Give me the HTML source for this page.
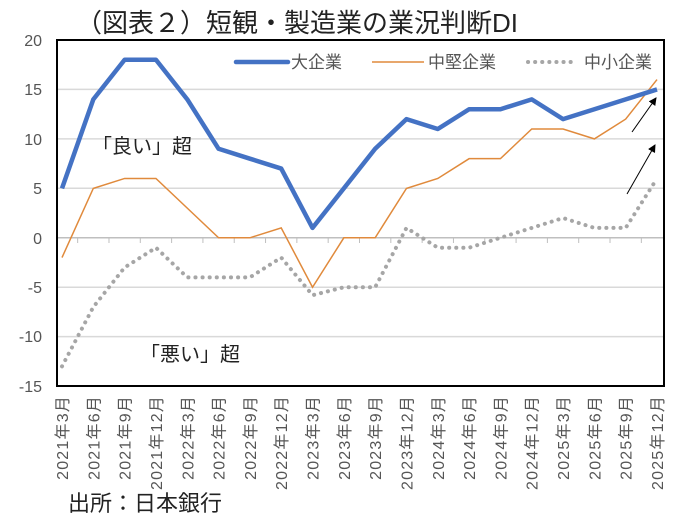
<!DOCTYPE html><html><head><meta charset="utf-8"><style>body{margin:0;background:#fff}svg{display:block}text{font-family:"Liberation Sans","Noto Sans CJK JP",sans-serif}</style></head><body>
<svg width="680" height="521" viewBox="0 0 680 521" xmlns="http://www.w3.org/2000/svg">
<defs><marker id="ah" markerWidth="8" markerHeight="8" refX="7" refY="4" orient="auto" markerUnits="userSpaceOnUse"><path d="M0,0 L8,4 L0,8 z" fill="#000"/></marker></defs>
<text x="76" y="32" font-size="26" fill="#222">（図表２）短観・製造業の業況判断DI</text>
<g stroke="#d9d9d9" stroke-width="1.5">
<line x1="58" x2="664" y1="89.4" y2="89.4"/><line x1="58" x2="664" y1="138.9" y2="138.9"/><line x1="58" x2="664" y1="188.3" y2="188.3"/><line x1="58" x2="664" y1="287.2" y2="287.2"/><line x1="58" x2="664" y1="336.6" y2="336.6"/></g>
<line x1="58" x2="664" y1="237.8" y2="237.8" stroke="#bfbfbf" stroke-width="1.5"/>
<g id="ticks" stroke="#bfbfbf" stroke-width="1"></g>
<rect x="57" y="40" width="607" height="346" fill="none" stroke="#000" stroke-width="2"/>
<g font-size="16" fill="#555" text-anchor="end">
<text x="42" y="46">20</text><text x="42" y="95">15</text><text x="42" y="145">10</text><text x="42" y="194">5</text><text x="42" y="244">0</text><text x="42" y="293">-5</text><text x="42" y="342">-10</text><text x="42" y="392">-15</text></g>
<g id="xl" font-size="16" fill="#555" letter-spacing="1.2"></g>
<polyline id="s" fill="none" stroke="#a6a6a6" stroke-width="4" stroke-dasharray="0.1 7" stroke-linecap="round"/>
<polyline id="m" fill="none" stroke="#e08a3c" stroke-width="1.5"/>
<polyline id="l" fill="none" stroke="#4472c4" stroke-width="4.5" stroke-linejoin="round"/>
<line x1="236" x2="288" y1="62" y2="62" stroke="#4472c4" stroke-width="4.5" stroke-linecap="round"/>
<text x="291" y="68" font-size="17" fill="#555">大企業</text>
<line x1="372" x2="424" y1="62" y2="62" stroke="#e08a3c" stroke-width="1.5"/>
<text x="428" y="68" font-size="17" fill="#555">中堅企業</text>
<line x1="528" x2="572" y1="62" y2="62" stroke="#a6a6a6" stroke-width="4" stroke-dasharray="0.1 7" stroke-linecap="round"/>
<text x="584" y="68" font-size="17" fill="#555">中小企業</text>
<text x="92" y="153" font-size="20" fill="#222">「良い」超</text>
<text x="140" y="361" font-size="20" fill="#222">「悪い」超</text>
<line x1="627" y1="194" x2="655" y2="145" stroke="#000" stroke-width="1" marker-end="url(#ah)"/>
<line x1="632" y1="132" x2="656" y2="98" stroke="#000" stroke-width="1" marker-end="url(#ah)"/>
<text x="68" y="511" font-size="22" fill="#222">出所：日本銀行</text>
</svg>
<script>
var L=[5,14,18,18,14,9,8,7,1,5,9,12,11,13,13,14,12,13,14,15],M=[-2,5,6,6,3,0,0,1,-5,0,0,5,6,8,8,11,11,10,12,16],S=[-13,-7,-3,-1,-4,-4,-4,-2,-5.8,-5,-5,1,-1,-1,0,1,2,1,1,6];
var D=(657-62)/19;
function X(i){return 62+i*D}function Y(v){return 237.8-v*9.89}
function P(a){return a.map(function(v,i){return X(i)+","+Y(v)}).join(" ")}
document.getElementById('l').setAttribute('points',P(L));document.getElementById('m').setAttribute('points',P(M));document.getElementById('s').setAttribute('points',P(S));
var ns="http://www.w3.org/2000/svg",t=document.getElementById('ticks'),xl=document.getElementById('xl');
var lab=[];for(var y=2021;y<=2025;y++)[3,6,9,12].forEach(function(m){lab.push(y+"年"+m+"月")});
for(var i=0;i<20;i++){var ln=document.createElementNS(ns,'line');var x=X(i)+D/2;if(i<19){ln.setAttribute('x1',x);ln.setAttribute('x2',x);ln.setAttribute('y1',237.8);ln.setAttribute('y2',243);t.appendChild(ln);}
var tx=document.createElementNS(ns,'text');tx.setAttribute('transform','translate('+(X(i)+6)+',395) rotate(-90)');tx.setAttribute('text-anchor','end');tx.textContent=lab[i];xl.appendChild(tx);}
</script>
</body></html>
